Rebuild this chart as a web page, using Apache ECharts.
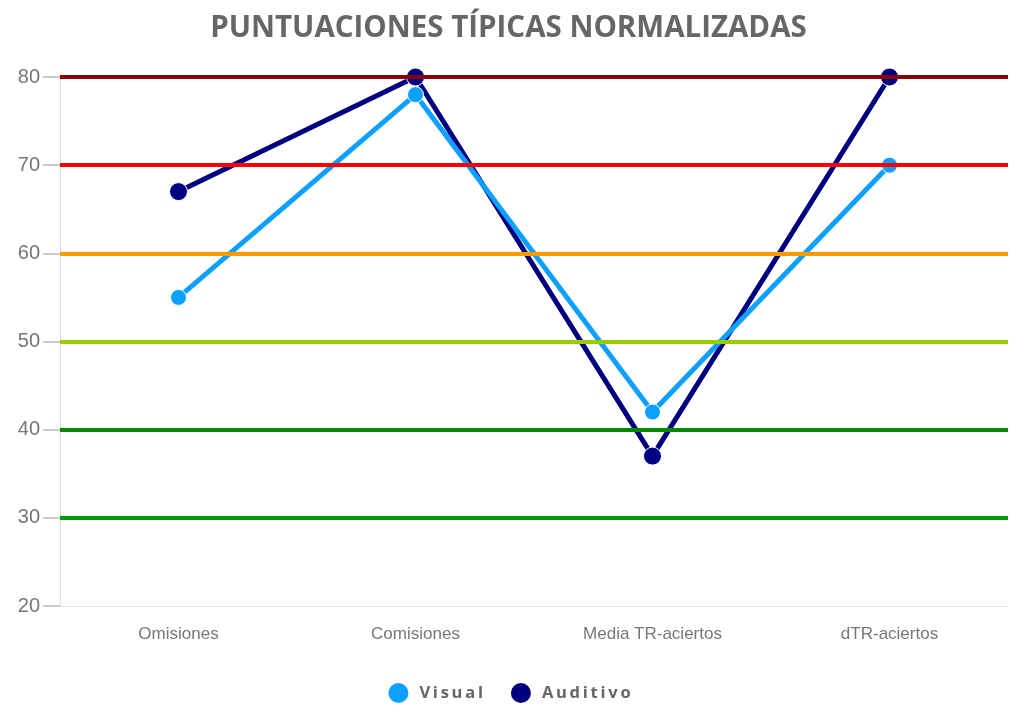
<!DOCTYPE html>
<html><head><meta charset="utf-8">
<script src="https://cdn.jsdelivr.net/npm/echarts@6/dist/echarts.min.js"></script>
<style>html,body{margin:0;padding:0;background:#fff}#c{width:1017px;height:706px}</style>
</head><body><div id="c"></div>
<script>
const categories = ['Omisiones', 'Comisiones', 'Media TR-aciertos', 'dTR-aciertos'];
const visual = [55, 78, 42, 70];
const auditivo = [67, 80, 37, 80];
const yTicks = [20, 30, 40, 50, 60, 70, 80];
const bandValues = [80, 70, 60, 50, 40, 30];
const bandColors = ['#8b0000', '#ff0000', '#ff9900', '#99cc00', '#008800', '#009900'];

const spaced = s => s.split('').join('\u2009');

const chart = echarts.init(document.getElementById('c'));
chart.setOption({
  animation: false,
  title: {
    text: 'PUNTUACIONES TÍPICAS NORMALIZADAS',
    left: 'center', top: 9,
    textStyle: { fontFamily: 'Open Sans', fontWeight: 'bold', fontSize: 29.5, color: '#666' }
  },
  legend: {
    bottom: 1, left: 'center', padding: 0,
    icon: 'circle', itemWidth: 22, itemHeight: 22, itemGap: 26,
    formatter: name => spaced(name),
    textStyle: { fontFamily: 'Open Sans', fontWeight: 'bold', fontSize: 16.5, color: '#666', padding: [0, 0, 0, 5] },
    data: ['Visual', 'Auditivo']
  },
  grid: { left: 60, right: 9, top: 77, bottom: 100 },
  xAxis: {
    type: 'category', data: categories, boundaryGap: true,
    axisLine: { show: true, lineStyle: { color: '#e0e0e0', width: 1 } },
    axisTick: { show: false },
    axisLabel: { fontFamily: 'Liberation Sans Narrow, Liberation Sans', fontSize: 17, color: '#777', margin: 20 }
  },
  yAxis: {
    type: 'value', min: yTicks[0], max: yTicks[yTicks.length - 1], interval: 10,
    axisLine: { show: true, lineStyle: { color: '#dcdcdc', width: 1 } },
    axisTick: { show: true, inside: false, length: 17, lineStyle: { color: '#bbbbbb', width: 1.5 } },
    splitLine: { show: false },
    axisLabel: { fontFamily: 'Liberation Sans', fontSize: 20, color: '#777', margin: 20 }
  },
  series: [
    {
      name: 'bands', type: 'line', data: [], z: 1, silent: true,
      markLine: {
        silent: true, symbol: ['none', 'none'], label: { show: false }, animation: false,
        data: bandValues.map((v, i) => ({ yAxis: v, lineStyle: { color: bandColors[i], width: 4, type: 'solid' } }))
      }
    },
    {
      name: 'Visual', type: 'line', data: visual, z: 3,
      symbol: 'circle', symbolSize: 16,
      itemStyle: { color: '#0ea0ff', borderColor: '#fff', borderWidth: 1 },
      lineStyle: { color: '#0ea0ff', width: 5 }
    },
    {
      name: 'Auditivo', type: 'line', data: auditivo, z: 2,
      symbol: 'circle', symbolSize: 18,
      itemStyle: { color: '#000080', borderColor: '#fff', borderWidth: 1 },
      lineStyle: { color: '#000080', width: 5 }
    }
  ]
});
</script>
</body></html>
